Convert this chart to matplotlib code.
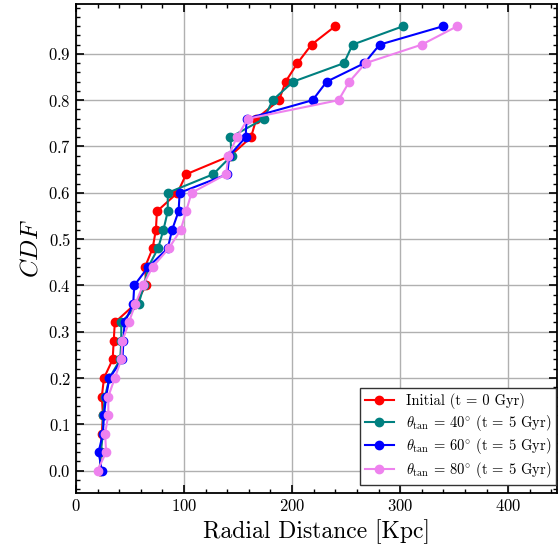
import numpy as np
import matplotlib
matplotlib.use('Agg')
from matplotlib import pyplot as plt
from matplotlib.ticker import MultipleLocator

plt.rcParams['font.family'] = 'cmr10'
plt.rcParams['mathtext.fontset'] = 'cm'
plt.rcParams['axes.formatter.use_mathtext'] = True
plt.rcParams['axes.unicode_minus'] = False

cdf = [0.00, 0.04, 0.08, 0.12, 0.16, 0.20, 0.24, 0.28, 0.32, 0.36, 0.40, 0.44, 0.48,
       0.52, 0.56, 0.60, 0.64, 0.68, 0.72, 0.76, 0.80, 0.84, 0.88, 0.92, 0.96]

r_initial = [22, 23, 24, 25, 24, 26, 34, 35, 36, 55, 65, 64, 71,
             74, 75, 94, 102, 143, 162, 167, 188, 194, 205, 218, 240]
r_40 = [22, 23, 25, 25, 27, 31, 41, 42, 42, 58, 63, 67, 76,
        81, 85, 85, 127, 144, 143, 174, 182, 201, 248, 256, 303]
r_60 = [24, 21, 25, 26, 28, 31, 43, 44, 45, 53, 54, 67, 85,
        89, 95, 96, 140, 142, 157, 158, 219, 232, 267, 281, 340]
r_80 = [20, 28, 27, 30, 30, 36, 42, 43, 49, 55, 62, 71, 86,
        97, 102, 107, 139, 141, 149, 159, 243, 253, 268, 320, 353]

labels = ['Initial (t = 0 Gyr)',
          r'$\theta_{\rm tan}$ = 40$^{\circ}$ (t = 5 Gyr)',
          r'$\theta_{\rm tan}$ = 60$^{\circ}$ (t = 5 Gyr)',
          r'$\theta_{\rm tan}$ = 80$^{\circ}$ (t = 5 Gyr)']
colors = ['red', 'teal', 'blue', 'violet']

fig = plt.figure(figsize=(5.58, 5.55), dpi=100)
ax = fig.add_axes([0.136, 0.112, 0.862, 0.881])

for r, lab, c in zip([r_initial, r_40, r_60, r_80], labels, colors):
    ax.plot(r, cdf, '-o', color=c, label=lab, markersize=6, linewidth=1.5)

ax.set_xlim(0, 445)
ax.set_ylim(-0.048, 1.008)
ax.set_yticks(np.arange(0, 1.0, 0.1))
ax.set_xticks([0, 100, 200, 300, 400])
ax.xaxis.set_minor_locator(MultipleLocator(20))
ax.yaxis.set_minor_locator(MultipleLocator(0.02))
ax.tick_params(which='both', direction='in', top=True, right=True, labelsize=12)
ax.tick_params(which='major', length=6, width=1.2)
ax.tick_params(which='minor', length=3, width=1)
for s in ax.spines.values():
    s.set_linewidth(1.3)
ax.grid(True, which='major', color='#b0b0b0', linewidth=1)

ax.set_xlabel('Radial Distance [Kpc]', fontsize=17)
ax.set_ylabel('$CDF$', fontsize=18)
leg = ax.legend(loc='lower right', bbox_to_anchor=(0.998, 0.016), fontsize=10.5,
                fancybox=False, edgecolor='#333333', framealpha=1, borderaxespad=0,
                labelspacing=0.25, handlelength=2.0, borderpad=0.35)
leg.get_frame().set_linewidth(1.0)

plt.savefig('out.png', dpi=100)
